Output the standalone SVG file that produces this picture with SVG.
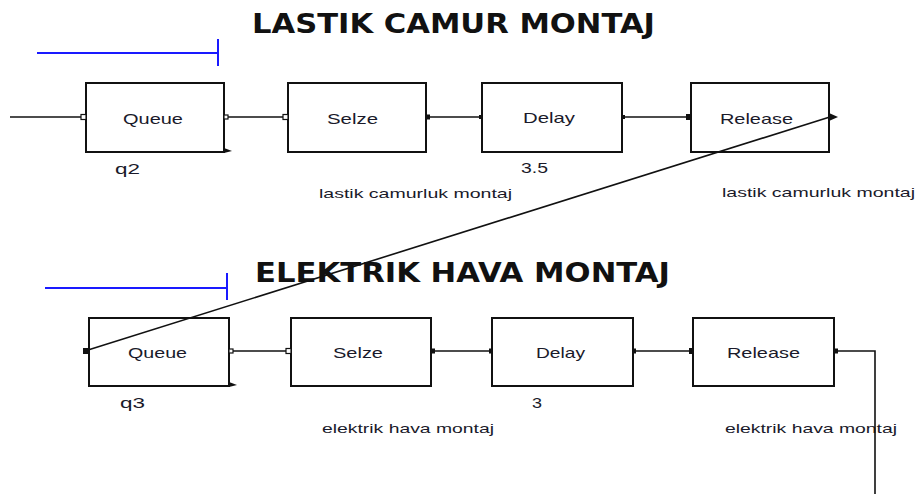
<svg xmlns="http://www.w3.org/2000/svg" width="920" height="494" viewBox="0 0 920 494">
<style>
.box{fill:#fff;stroke:#111;stroke-width:2}
.ln{fill:none;stroke:#111;stroke-width:1.6}
.blue{fill:none;stroke:#1a1aff;stroke-width:2}
.t{font-family:"Liberation Sans",Arial,sans-serif;font-size:15px;fill:#1a1a2a}
.s{font-family:"Liberation Sans",Arial,sans-serif;font-size:13px;fill:#1a1a2a}
.h{font-family:"DejaVu Sans",Verdana,sans-serif;font-weight:bold;font-size:27px;fill:#111}
.ph{fill:#fff;stroke:#111;stroke-width:1.2}
.pf{fill:#111}
</style>
<rect width="920" height="494" fill="#fff"/>
<text class="h" x="252" y="33" textLength="403" lengthAdjust="spacingAndGlyphs">LASTIK CAMUR MONTAJ</text>
<text class="h" x="255" y="282" textLength="415" lengthAdjust="spacingAndGlyphs">ELEKTRIK HAVA MONTAJ</text>
<g id="timers">
<path class="blue" d="M37 53H218M218 39V66"/>
<path class="blue" d="M45 288H227M227 273V300"/>
</g>
<g id="queue1">
<rect class="box" x="86" y="83" width="138" height="69"/>
<text class="t" x="123" y="124" textLength="60" lengthAdjust="spacingAndGlyphs">Queue</text>
<text class="t" x="115" y="174" textLength="25" lengthAdjust="spacingAndGlyphs">q2</text>
</g>
<g id="seize1">
<rect class="box" x="288" y="83" width="138" height="69"/>
<text class="t" x="327" y="124" textLength="51" lengthAdjust="spacingAndGlyphs">Selze</text>
<text class="s" x="319" y="198" textLength="193" lengthAdjust="spacingAndGlyphs">lastik camurluk montaj</text>
</g>
<g id="delay1">
<rect class="box" x="482" y="83" width="140" height="69"/>
<text class="t" x="523" y="123" textLength="52" lengthAdjust="spacingAndGlyphs">Delay</text>
<text class="t" x="521" y="173" textLength="27" lengthAdjust="spacingAndGlyphs">3.5</text>
</g>
<g id="release1">
<rect class="box" x="691" y="83" width="138" height="69"/>
<text class="t" x="720" y="124" textLength="73" lengthAdjust="spacingAndGlyphs">Release</text>
<text class="s" x="722" y="197" textLength="193" lengthAdjust="spacingAndGlyphs">lastik camurluk montaj</text>
</g>
<g id="queue2">
<rect class="box" x="89" y="318" width="140" height="68"/>
<text class="t" x="128" y="358" textLength="59" lengthAdjust="spacingAndGlyphs">Queue</text>
<text class="t" x="120" y="408" textLength="25" lengthAdjust="spacingAndGlyphs">q3</text>
</g>
<g id="seize2">
<rect class="box" x="291" y="318" width="140" height="68"/>
<text class="t" x="333" y="358" textLength="50" lengthAdjust="spacingAndGlyphs">Selze</text>
<text class="s" x="322" y="433" textLength="172" lengthAdjust="spacingAndGlyphs">elektrik hava montaj</text>
</g>
<g id="delay2">
<rect class="box" x="492" y="318" width="141" height="68"/>
<text class="t" x="536" y="358" textLength="49" lengthAdjust="spacingAndGlyphs">Delay</text>
<text class="t" x="532" y="408" textLength="10" lengthAdjust="spacingAndGlyphs">3</text>
</g>
<g id="release2">
<rect class="box" x="693" y="318" width="141" height="68"/>
<text class="t" x="727" y="358" textLength="73" lengthAdjust="spacingAndGlyphs">Release</text>
<text class="s" x="725" y="433" textLength="172" lengthAdjust="spacingAndGlyphs">elektrik hava montaj</text>
</g>
<g id="connectors">
<path class="ln" d="M10 117H83"/>
<path class="ln" d="M228 117H285"/>
<path class="ln" d="M429 117H481"/>
<path class="ln" d="M624 117H688"/>
<path class="ln" d="M833 116L88 350"/>
<path class="ln" d="M232 351H289"/>
<path class="ln" d="M433 351H492"/>
<path class="ln" d="M635 351H692"/>
<path class="ln" d="M836 351H875V494"/>
</g>
<g id="ports">
<rect class="ph" x="81" y="114.5" width="5" height="5"/>
<rect class="ph" x="224" y="115" width="4" height="4"/>
<path class="pf" d="M224 148L232 151L224 153Z"/>
<rect class="ph" x="283" y="114.5" width="5" height="5"/>
<rect class="pf" x="426" y="114.5" width="4" height="5"/>
<rect class="pf" x="479" y="115" width="4" height="4"/>
<rect class="pf" x="622" y="115" width="3" height="4"/>
<rect class="pf" x="686" y="114" width="6" height="6"/>
<path class="pf" d="M829 113L838 117L829 121Z"/>
<rect class="pf" x="83" y="348" width="6" height="6"/>
<rect class="ph" x="229" y="349" width="4" height="4"/>
<path class="pf" d="M229 382L237 385L229 387Z"/>
<rect class="ph" x="286" y="348.5" width="5" height="5"/>
<rect class="pf" x="431" y="348.5" width="4" height="5"/>
<rect class="pf" x="489" y="348.5" width="4" height="5"/>
<rect class="pf" x="633" y="348.5" width="3" height="5"/>
<rect class="pf" x="689" y="348" width="5" height="6"/>
<rect class="pf" x="834" y="348.5" width="4" height="5"/>
</g>
</svg>
